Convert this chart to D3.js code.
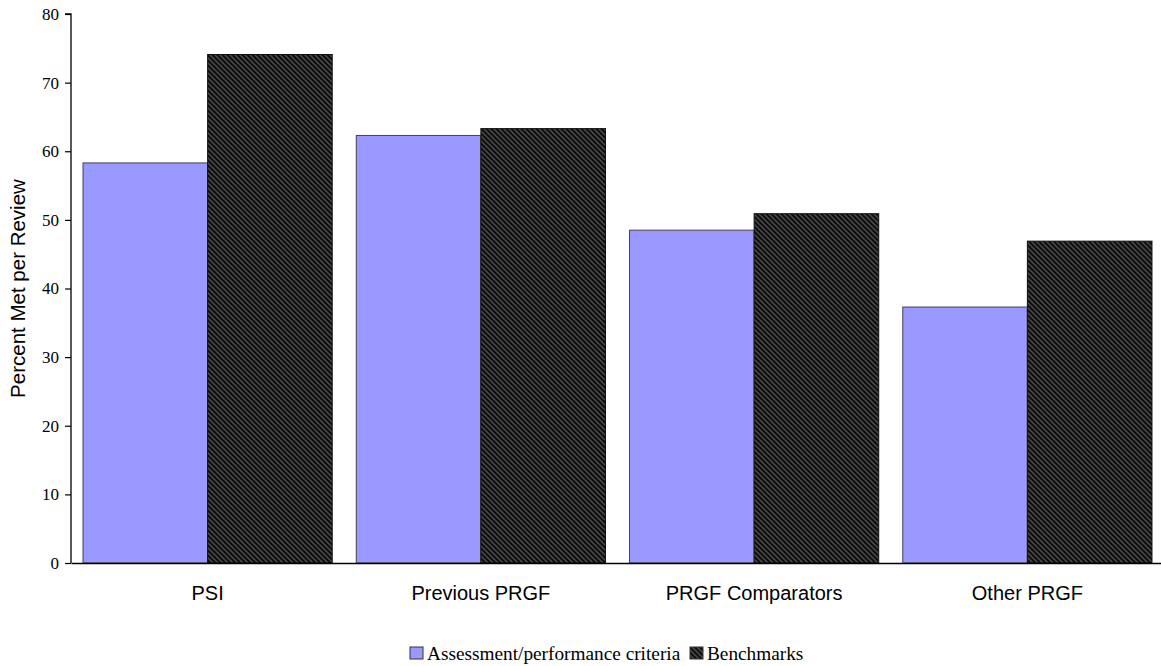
<!DOCTYPE html>
<html><head><meta charset="utf-8">
<script src="https://cdn.jsdelivr.net/npm/d3@7"></script>
<style>html,body{margin:0;padding:0;background:#fff;overflow:hidden}</style>
</head><body>
<script>
const categories = ["PSI", "Previous PRGF", "PRGF Comparators", "Other PRGF"];
const seriesNames = ["Assessment/performance criteria", "Benchmarks"];
const assessment = [58.3, 62.3, 48.5, 37.3];
const benchmarks = [74.1, 63.3, 50.9, 46.9];
const yTicks = [0, 10, 20, 30, 40, 50, 60, 70, 80];

const W = 1161, H = 666;
const margin = {left: 71, top: 14, right: 1164, bottom: 563};
const svg = d3.select("body").append("svg").attr("width", W).attr("height", H);

const defs = svg.append("defs");
const pat = defs.append("pattern").attr("id", "hatch").attr("patternUnits", "userSpaceOnUse")
  .attr("width", 5).attr("height", 5);
pat.append("rect").attr("width", 5).attr("height", 5).attr("fill", "#0d0d0d");
pat.append("path").attr("d", "M-1,-1 L6,6 M-1,4 L1,6 M4,-1 L6,1")
  .attr("stroke", "#4d4d4d").attr("stroke-width", 1.5);

const x = d3.scaleBand().domain(categories).range([margin.left, margin.right]).paddingInner(0.088).paddingOuter(0.044);
const x1 = d3.scaleBand().domain(seriesNames).range([0, x.bandwidth()]);
const y = d3.scaleLinear().domain([0, 80]).range([margin.bottom, margin.top]);

const data = categories.map((c, i) => ({cat: c, vals: [assessment[i], benchmarks[i]]}));
const fills = ["#9999FF", "url(#hatch)"];

const g = svg.append("g");
data.forEach(d => {
  d.vals.forEach((v, j) => {
    g.append("rect")
      .attr("x", x(d.cat) + x1(seriesNames[j]))
      .attr("y", y(v))
      .attr("width", x1.bandwidth())
      .attr("height", y(0) - y(v))
      .attr("fill", fills[j])
      .attr("stroke", j === 0 ? "#444" : "#111")
      .attr("stroke-width", 1);
  });
});

// y axis
const yAxis = svg.append("g").attr("transform", `translate(${margin.left},0)`)
  .call(d3.axisLeft(y).tickValues(yTicks).tickSize(6).tickPadding(6).tickFormat(d3.format("d")));
yAxis.select(".domain").attr("stroke", "#000").attr("stroke-width", 1.3).attr("d", `M-6,${margin.top}H0V${margin.bottom}`);
yAxis.selectAll(".tick line").attr("stroke", "#000").attr("stroke-width", 1.2);
yAxis.selectAll("text").attr("font-family", "'Liberation Serif', 'Times New Roman', serif").attr("font-size", 17).attr("fill", "#000");

// x axis line
const xAxis = svg.append("g").attr("transform", `translate(0,${margin.bottom})`)
  .call(d3.axisBottom(x).tickSize(0));
xAxis.select(".domain").attr("stroke", "#000").attr("stroke-width", 1.3);
xAxis.selectAll("text").attr("font-family", "'Liberation Sans', Arial, sans-serif").attr("font-size", 20)
  .attr("fill", "#000").attr("y", 37).attr("dy", 0);

// y label
svg.append("text").attr("transform", `translate(25,${(margin.top + margin.bottom) / 2}) rotate(-90)`)
  .attr("text-anchor", "middle").attr("font-family", "'Liberation Sans', Arial, sans-serif")
  .attr("font-size", 20.5).attr("fill", "#000").text("Percent Met per Review");

// legend
const lg = svg.append("g").attr("font-family", "'Liberation Serif', 'Times New Roman', serif").attr("font-size", 19.3);
const legendItems = [{x: 410, name: seriesNames[0], fill: fills[0]}, {x: 690, name: seriesNames[1], fill: fills[1]}];
legendItems.forEach(it => {
  lg.append("rect").attr("x", it.x).attr("y", 647).attr("width", 13).attr("height", 12)
    .attr("fill", it.fill).attr("stroke", "#333").attr("stroke-width", 1);
  lg.append("text").attr("x", it.x + 17).attr("y", 660).attr("fill", "#000").text(it.name);
});
</script>
</body></html>
